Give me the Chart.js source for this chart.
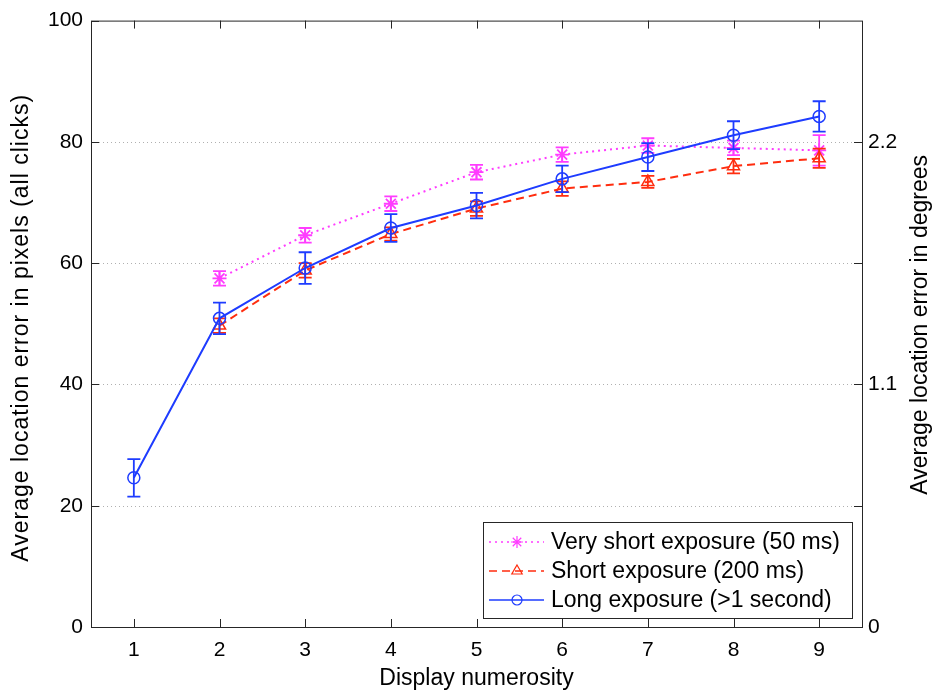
<!DOCTYPE html>
<html>
<head>
<meta charset="utf-8">
<script src="https://cdn.jsdelivr.net/npm/chart.js@4.4.1/dist/chart.umd.min.js"></script>
<style>
  html, body { margin: 0; padding: 0; background: #fff; }
  #wrap { width: 933px; height: 696px; position: relative; }
</style>
</head>
<body>
<div id="wrap"><canvas id="numerosity"></canvas></div>
<script>
// display numerosity categories
const numerosity = ['1', '2', '3', '4', '5', '6', '7', '8', '9'];

// mean location error (pixels) and error bar half-lengths per condition
const veryShortMean = [null, 57.5, 64.6, 69.8, 75.0, 77.9, 79.4, 79.0, 78.6];
const veryShortErr  = [null, 1.2, 1.2, 1.2, 1.2, 1.2, 1.2, 1.2, 2.5];
const shortMean     = [null, 49.7, 58.8, 64.8, 69.0, 72.3, 73.4, 76.0, 77.3];
const shortErr      = [null, 1.2, 1.2, 1.1, 1.2, 1.2, 1.0, 1.2, 1.6];
const longMean      = [24.6, 50.9, 59.2, 65.8, 69.5, 73.9, 77.5, 81.1, 84.2];
const longErr       = [3.1, 2.6, 2.6, 2.3, 2.1, 2.2, 2.3, 2.3, 2.5];

// tick values
const pixelTicks = [0, 20, 40, 60, 80, 100];
const degreeTicks = [0, 0.55, 1.1, 1.65, 2.2];
const degreeLabels = [0, 1.1, 2.2];

const FONT = "'Liberation Sans', Arial, Helvetica, sans-serif";
const AXIS = '#262626';

// vertical error bars with caps, drawn per dataset so layering matches
const errorBars = {
    id: 'errorBars',
    afterDatasetDraw(chart, args) {
        const ds = chart.data.datasets[args.index];
        if (!ds.errors) return;
        const ctx = chart.ctx;
        const xs = chart.scales.x, ys = chart.scales.y;
        ctx.save();
        ctx.strokeStyle = ds.borderColor;
        ctx.lineWidth = 1.8;
        ctx.setLineDash([]);
        ds.data.forEach((v, i) => {
            if (v === null) return;
            const e = ds.errors[i];
            const x = xs.getPixelForValue(i);
            const y1 = ys.getPixelForValue(v + e);
            const y2 = ys.getPixelForValue(v - e);
            ctx.beginPath();
            ctx.moveTo(x, y1); ctx.lineTo(x, y2);
            ctx.moveTo(x - 6.5, y1); ctx.lineTo(x + 6.5, y1);
            ctx.moveTo(x - 6.5, y2); ctx.lineTo(x + 6.5, y2);
            ctx.stroke();
        });
        ctx.restore();
    }
};

// matlab style frame: dotted grid, box, inward ticks, side titles, legend
const frame = {
    id: 'frame',
    beforeDatasetsDraw(chart) {
        const {ctx, chartArea: a} = chart;
        const ys = chart.scales.y;
        ctx.save();
        ctx.strokeStyle = '#b0b0b0';
        ctx.lineWidth = 1;
        ctx.setLineDash([1, 3]);
        pixelTicks.forEach(v => {
            if (v === 0 || v === 100) return;
            const y = Math.round(ys.getPixelForValue(v)) + 0.5;
            ctx.beginPath();
            ctx.moveTo(a.left, y); ctx.lineTo(a.right, y);
            ctx.stroke();
        });
        ctx.restore();
    },
    afterDraw(chart) {
        const {ctx, chartArea: a} = chart;
        const xs = chart.scales.x, ys = chart.scales.y, y2 = chart.scales.y2;
        ctx.save();
        ctx.strokeStyle = AXIS;
        ctx.lineWidth = 1;
        ctx.setLineDash([]);
        ctx.strokeRect(a.left + 0.5, a.top + 0.5, a.right - a.left, a.bottom - a.top);
        ctx.beginPath();
        numerosity.forEach((_, i) => {
            const x = Math.round(xs.getPixelForValue(i)) + 0.5;
            ctx.moveTo(x, a.bottom); ctx.lineTo(x, a.bottom - 8);
            ctx.moveTo(x, a.top); ctx.lineTo(x, a.top + 8);
        });
        pixelTicks.forEach(v => {
            const y = Math.round(ys.getPixelForValue(v)) + 0.5;
            ctx.moveTo(a.left, y); ctx.lineTo(a.left + 8, y);
        });
        degreeTicks.forEach(v => {
            const y = Math.round(y2.getPixelForValue(v)) + 0.5;
            ctx.moveTo(a.right, y); ctx.lineTo(a.right - 8, y);
        });
        ctx.stroke();
        ctx.restore();

        // both side titles read bottom-to-top
        const mid = (a.top + a.bottom) / 2;
        ctx.save();
        ctx.fillStyle = '#000';
        ctx.font = '23px ' + FONT;
        ctx.textAlign = 'center';
        ctx.textBaseline = 'middle';
        ctx.letterSpacing = '1px';
        ctx.translate(22, mid + 4);
        ctx.rotate(-Math.PI / 2);
        ctx.fillText('Average location error in pixels (all clicks)', 0, 0);
        ctx.restore();

        ctx.save();
        ctx.fillStyle = '#000';
        ctx.font = '23px ' + FONT;
        ctx.textAlign = 'center';
        ctx.textBaseline = 'middle';
        ctx.translate(921, mid + 1);
        ctx.rotate(-Math.PI / 2);
        ctx.fillText('Average location error in degrees', 0, 0);
        ctx.restore();

        // legend box
        ctx.save();
        const bx = 483, by = 522, bw = 369, bh = 96;
        ctx.fillStyle = '#fff';
        ctx.fillRect(bx, by, bw, bh);
        ctx.strokeStyle = AXIS;
        ctx.lineWidth = 1;
        ctx.strokeRect(bx + 0.5, by + 0.5, bw, bh);
        const rows = [542, 571, 600];
        chart.data.datasets.forEach((ds, i) => {
            const y = rows[i];
            ctx.strokeStyle = ds.borderColor;
            ctx.lineWidth = 1.5;
            ctx.setLineDash(ds.borderDash || []);
            ctx.beginPath();
            ctx.moveTo(489, y); ctx.lineTo(544, y);
            ctx.stroke();
            ctx.setLineDash([]);
            ctx.lineWidth = 1.2;
            ctx.fillStyle = 'rgba(0,0,0,0)';
            Chart.helpers.drawPoint(ctx, {
                pointStyle: ds.pointStyle, radius: ds.pointRadius - 1, rotation: 0, borderWidth: 1.2
            }, 517, y);
            ctx.fillStyle = '#000';
            ctx.font = '23px ' + FONT;
            ctx.textAlign = 'left';
            ctx.textBaseline = 'middle';
            ctx.fillText(ds.label, 551, y + 1);
        });
        ctx.restore();
    }
};

new Chart(document.getElementById('numerosity'), {
    type: 'line',
    data: {
        labels: numerosity,
        datasets: [
            {
                label: 'Very short exposure (50 ms)',
                data: veryShortMean,
                errors: veryShortErr,
                borderColor: 'rgb(255, 60, 255)',
                borderWidth: 2,
                borderDash: [2, 4],
                pointStyle: 'star',
                pointRadius: 7,
                pointBorderWidth: 1.8,
                pointBackgroundColor: 'rgba(0,0,0,0)',
                order: 2
            },
            {
                label: 'Short exposure (200 ms)',
                data: shortMean,
                errors: shortErr,
                borderColor: 'rgb(255, 45, 15)',
                borderWidth: 2,
                borderDash: [8, 5],
                pointStyle: 'triangle',
                pointRadius: 7,
                pointBorderWidth: 1.5,
                pointBackgroundColor: 'rgba(0,0,0,0)',
                order: 1
            },
            {
                label: 'Long exposure (>1 second)',
                data: longMean,
                errors: longErr,
                borderColor: 'rgb(30, 60, 255)',
                borderWidth: 2,
                pointStyle: 'circle',
                pointRadius: 6,
                pointBorderWidth: 1.5,
                pointBackgroundColor: 'rgba(0,0,0,0)',
                order: 0
            }
        ]
    },
    options: {
        responsive: true,
        maintainAspectRatio: false,
        animation: false,
        layout: {padding: {top: 18, left: 0, right: 0, bottom: 0}},
        elements: {line: {tension: 0, fill: false}},
        plugins: {legend: {display: false}, tooltip: {enabled: false}},
        scales: {
            x: {
                type: 'category',
                offset: true,
                grid: {display: false, drawTicks: false},
                border: {display: false},
                ticks: {color: '#000', padding: 11, font: {family: FONT, size: 21}, maxRotation: 0},
                title: {
                    display: true,
                    text: 'Display numerosity',
                    color: '#000',
                    font: {family: FONT, size: 23},
                    padding: {top: 0, bottom: 4}
                },
                afterFit(scale) { scale.height = 69; }
            },
            y: {
                position: 'left',
                min: 0,
                max: 100,
                grid: {display: false, drawTicks: false},
                border: {display: false},
                afterBuildTicks(scale) { scale.ticks = pixelTicks.map(v => ({value: v})); },
                ticks: {color: '#000', padding: 8, font: {family: FONT, size: 21}},
                afterFit(scale) { scale.width = 91; }
            },
            y2: {
                position: 'right',
                min: 0,
                max: 2.75,
                grid: {display: false, drawTicks: false},
                border: {display: false},
                afterBuildTicks(scale) { scale.ticks = degreeTicks.map(v => ({value: v})); },
                ticks: {
                    color: '#000',
                    padding: 6,
                    font: {family: FONT, size: 21},
                    callback(value) {
                        const hit = degreeLabels.find(d => Math.abs(d - value) < 1e-6);
                        return hit === undefined ? '' : String(hit);
                    }
                },
                afterFit(scale) { scale.width = 71; }
            }
        }
    },
    plugins: [errorBars, frame]
});
</script>
</body>
</html>
